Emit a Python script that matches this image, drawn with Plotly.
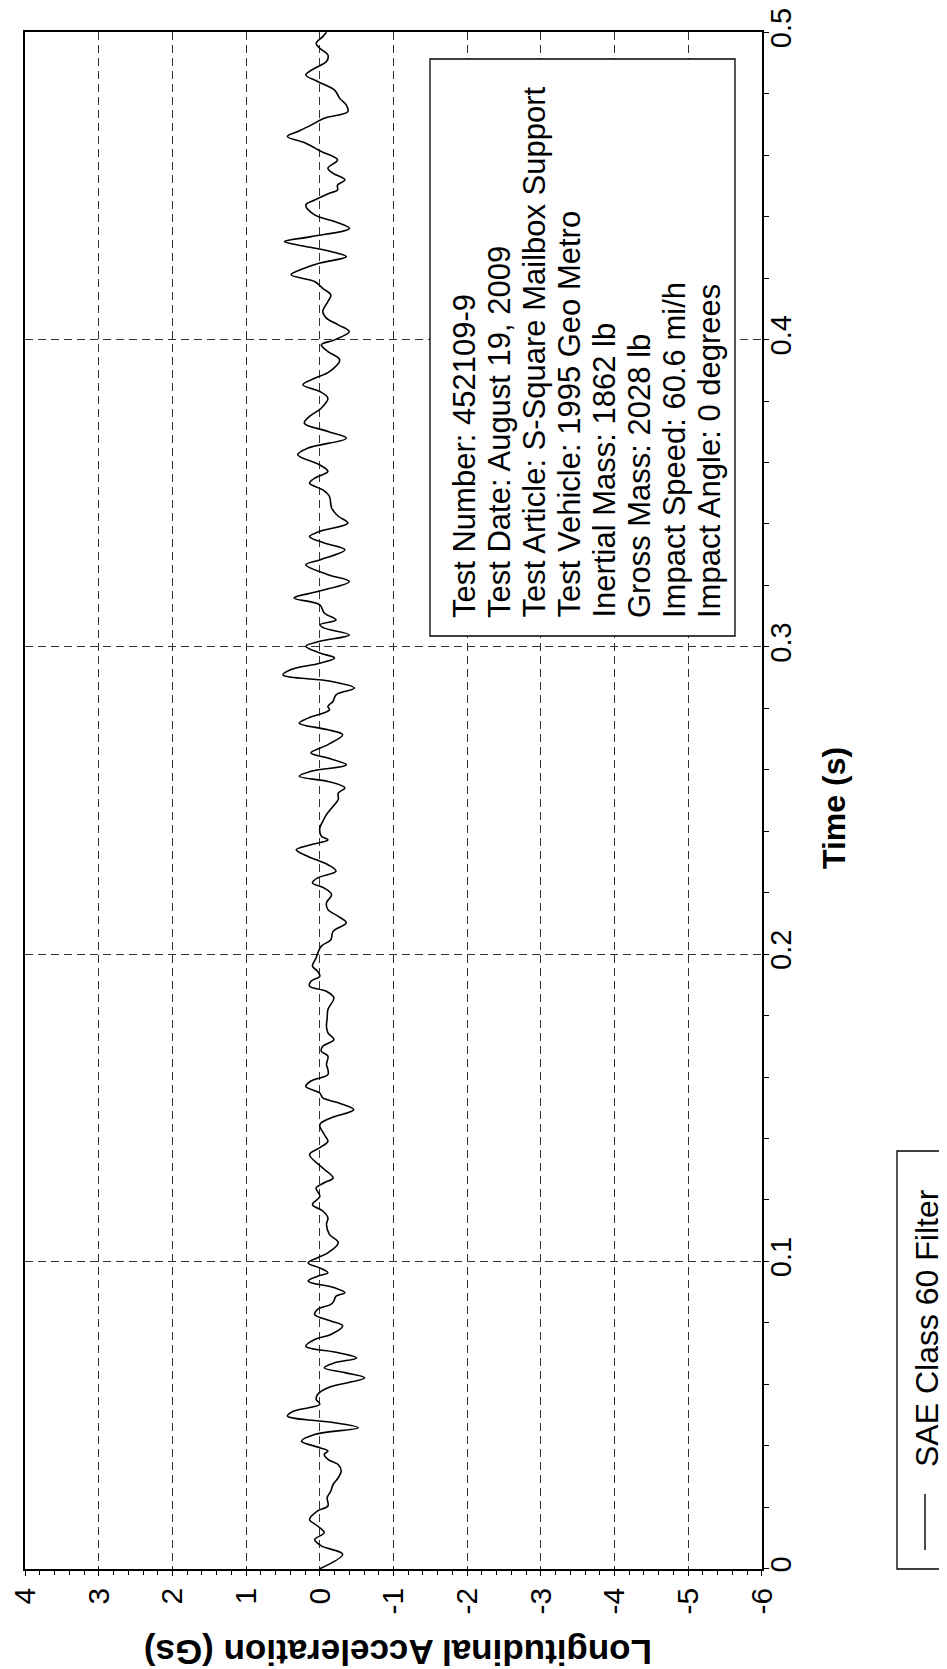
import plotly.graph_objects as go

# ---------------- data ----------------
time_s = [
    0.0000, 0.0047, 0.0074, 0.0095, 0.0117, 0.0139, 0.0160, 0.0188, 0.0204, 0.0231,
    0.0253, 0.0274, 0.0296, 0.0318, 0.0339, 0.0356, 0.0372, 0.0383, 0.0394, 0.0415,
    0.0437, 0.0459, 0.0475, 0.0497, 0.0513, 0.0535, 0.0551, 0.0567, 0.0589, 0.0621,
    0.0638, 0.0654, 0.0670, 0.0686, 0.0703, 0.0724, 0.0746, 0.0762, 0.0790, 0.0806,
    0.0827, 0.0844, 0.0860, 0.0871, 0.0887, 0.0898, 0.0914, 0.0936, 0.0952, 0.0963,
    0.0979, 0.0995, 0.1012, 0.1028, 0.1061, 0.1088, 0.1120, 0.1142, 0.1164, 0.1185,
    0.1212, 0.1239, 0.1256, 0.1272,
    0.1304, 0.1348, 0.1370, 0.1391, 0.1413, 0.1445, 0.1467, 0.1494, 0.1516, 0.1532,
    0.1548, 0.1570, 0.1587, 0.1608, 0.1624, 0.1641, 0.1668, 0.1684, 0.1700, 0.1722,
    0.1744, 0.1765, 0.1792, 0.1820, 0.1858, 0.1879, 0.1896, 0.1912, 0.1928, 0.1944,
    0.1961, 0.1988, 0.2002, 0.2026, 0.2047, 0.2074, 0.2102, 0.2123, 0.2145, 0.2167,
    0.2194, 0.2215, 0.2232, 0.2248, 0.2270, 0.2291, 0.2318, 0.2340, 0.2356, 0.2372,
    0.2384, 0.2411, 0.2432, 0.2454, 0.2481, 0.2503, 0.2524, 0.2541,
    0.2562, 0.2579, 0.2595, 0.2616, 0.2638, 0.2655, 0.2682, 0.2714, 0.2730, 0.2752,
    0.2768, 0.2795, 0.2806, 0.2823, 0.2844, 0.2866, 0.2888, 0.2909, 0.2926, 0.2947,
    0.2964, 0.2980, 0.3002, 0.3018, 0.3039, 0.3061, 0.3072, 0.3088, 0.3110, 0.3137,
    0.3159, 0.3180, 0.3213, 0.3235, 0.3267, 0.3283, 0.3316, 0.3338, 0.3359, 0.3376,
    0.3403, 0.3425, 0.3452, 0.3490, 0.3511, 0.3533, 0.3549, 0.3571, 0.3592, 0.3625,
    0.3647, 0.3679, 0.3701, 0.3728, 0.3750, 0.3777,
    0.3809, 0.3831, 0.3853, 0.3874, 0.3896, 0.3934, 0.3961, 0.3983, 0.3999, 0.4026,
    0.4048, 0.4070, 0.4091, 0.4124, 0.4145, 0.4167, 0.4189, 0.4211, 0.4232, 0.4249,
    0.4270, 0.4287, 0.4308, 0.4319, 0.4335, 0.4362, 0.4384, 0.4406, 0.4438, 0.4454,
    0.4476, 0.4487, 0.4503, 0.4520, 0.4541, 0.4558, 0.4585, 0.4612, 0.4639, 0.4661,
    0.4677, 0.4698, 0.4720, 0.4742, 0.4763, 0.4785, 0.4812, 0.4840, 0.4861, 0.4883,
    0.4905, 0.4926, 0.4948, 0.4964, 0.4986, 0.5000,
]
accel_g = [
    0.00, -0.31, -0.02, 0.07, -0.06, 0.03, 0.14, 0.03, -0.11, -0.10,
    -0.15, -0.18, -0.25, -0.29, -0.25, -0.11, -0.06, -0.11, 0.00, 0.25,
    0.07, -0.52, -0.20, 0.44, 0.35, 0.00, 0.05, 0.03, -0.11, -0.61,
    -0.34, -0.06, -0.20, -0.50, -0.25, 0.19, 0.07, -0.15, -0.31, -0.15,
    0.07, 0.03, -0.15, -0.19, -0.22, -0.34, -0.20, 0.16, 0.03, -0.11,
    0.00, 0.16, 0.03, -0.11, -0.25, -0.13, -0.09, -0.11, -0.04, 0.10,
    0.00, 0.05, -0.06, -0.18,
    -0.04, 0.14, 0.00, -0.11, -0.06, 0.00, -0.15, -0.46, -0.25, -0.04,
    0.00, 0.19, 0.12, -0.11, -0.11, -0.09, -0.11, -0.02, -0.04, -0.19,
    -0.11, -0.09, -0.10, -0.11, -0.19, -0.09, 0.14, 0.12, 0.00, 0.03,
    0.10, 0.05, 0.03, -0.02, -0.15, -0.18, -0.36, -0.25, -0.11, -0.09,
    -0.16, -0.06, 0.10, 0.03, -0.22, -0.11, 0.16, 0.32, 0.12, -0.11,
    -0.02, 0.00, -0.04, -0.09, -0.18, -0.25, -0.25, -0.34,
    -0.11, 0.28, 0.12, -0.36, -0.11, 0.12, -0.11, -0.31, -0.11, 0.28,
    0.16, -0.13, -0.11, -0.18, -0.22, -0.47, -0.15, 0.50, 0.39, 0.00,
    -0.20, 0.00, 0.19, 0.00, -0.40, -0.06, 0.00, -0.22, -0.06, 0.00,
    0.35, 0.03, -0.40, -0.11, 0.19, 0.00, -0.34, -0.06, 0.14, 0.00,
    -0.38, -0.25, -0.16, -0.13, -0.04, 0.14, 0.07, -0.11, 0.00, 0.30,
    0.16, -0.36, -0.11, 0.21, 0.14, -0.02,
    -0.11, 0.00, 0.23, 0.07, -0.13, -0.27, -0.11, -0.02, -0.20, -0.40,
    -0.25, -0.09, -0.04, -0.11, -0.15, -0.04, 0.07, 0.39, 0.21, 0.00,
    -0.36, -0.15, 0.30, 0.48, 0.12, -0.40, -0.20, 0.07, 0.19, 0.07,
    -0.13, -0.24, -0.24, -0.34, -0.18, -0.11, -0.24, -0.02, 0.19, 0.44,
    0.30, 0.12, -0.06, -0.38, -0.36, -0.27, -0.20, 0.03, 0.19, 0.07,
    -0.09, -0.11, 0.00, 0.05, -0.04, -0.09,
]

accel_ticks = [4, 3, 2, 1, 0, -1, -2, -3, -4, -5, -6]
accel_ticklabels = ["4", "3", "2", "1", "0", "-1", "-2", "-3", "-4", "-5", "-6"]
time_ticks = [0, 0.1, 0.2, 0.3, 0.4, 0.5]
time_ticklabels = ["0", "0.1", "0.2", "0.3", "0.4", "0.5"]

info_lines = [
    "Test Number: 452109-9",
    "Test Date: August 19, 2009",
    "Test Article: S-Square Mailbox Support",
    "Test Vehicle: 1995 Geo Metro",
    "Inertial Mass: 1862 lb",
    "Gross Mass: 2028 lb",
    "Impact Speed: 60.6 mi/h",
    "Impact Angle: 0 degrees",
]
series_name = "SAE Class 60 Filter"
accel_title = "Longitudinal Acceleration (Gs)"
time_title = "Time (s)"

# ---------------- layout geometry ----------------
W, H = 947, 1669
PL, PR, PT, PB = 17, 754, 24, 1561
FONT = "Arial, Liberation Sans, sans-serif"


def px_x(x):
    return (x - PL) / (PR - PL)


def px_y(y):
    return (PB - y) / (PB - PT)


fig = go.Figure()
fig.add_trace(go.Scatter(
    x=accel_g, y=time_s, mode="lines",
    line=dict(color="black", width=1.6, shape="spline", smoothing=1.0),
    name=series_name, showlegend=False, hoverinfo="skip",
))

grid = dict(showgrid=True, gridcolor="#333333", gridwidth=1, griddash="8px,5px")

fig.update_layout(
    width=W, height=H,
    margin=dict(l=PL, r=W - PR, t=PT, b=H - PB, pad=0, autoexpand=False),
    paper_bgcolor="white", plot_bgcolor="white",
    font=dict(family=FONT, color="black"),
    xaxis=dict(
        range=[4.002, -6.002], tickmode="array", tickvals=accel_ticks, ticktext=accel_ticklabels,
        tickangle=-90, tickfont=dict(size=30, family=FONT, color="black"),
        ticklabeloverflow="allow", automargin=False,
        showline=True, linecolor="black", linewidth=1.5, mirror=True,
        ticks="outside", ticklen=5, tickcolor="black", tickwidth=1,
        minor=dict(dtick=0.2, tick0=0, ticks="outside", ticklen=4, tickcolor="black", showgrid=False),
        zeroline=False, **grid,
    ),
    yaxis=dict(
        range=[-0.0001, 0.5001], side="right", tickmode="array", tickvals=time_ticks,
        ticktext=time_ticklabels,
        tickangle=-90, tickfont=dict(size=29, family=FONT, color="black"),
        ticklabeloverflow="allow", automargin=False, ticklabelstandoff=-13,
        showline=True, linecolor="black", linewidth=1.5, mirror=True,
        ticks="outside", ticklen=5, tickcolor="black", tickwidth=1,
        minor=dict(dtick=0.02, tick0=0, ticks="outside", ticklen=5, tickcolor="black", showgrid=False),
        zeroline=False, **grid,
    ),
)

shapes = []
annotations = []

# axis titles (the whole chart is turned a quarter turn)
annotations.append(dict(
    text="<b>%s</b>" % accel_title, x=px_x(390), y=px_y(1645), xref="paper", yref="paper",
    xanchor="center", yanchor="middle", showarrow=False, textangle=180,
    font=dict(size=35, family=FONT, color="black"),
))
annotations.append(dict(
    text="<b>%s</b>" % time_title, x=px_x(826), y=px_y(800), xref="paper", yref="paper",
    xanchor="center", yanchor="middle", showarrow=False, textangle=-90,
    font=dict(size=32, family=FONT, color="black"),
))

# info box
shapes.append(dict(type="rect", xref="paper", yref="paper",
                   x0=px_x(422), x1=px_x(727), y0=px_y(628), y1=px_y(51),
                   line=dict(color="black", width=1.3), fillcolor="white", layer="above"))
for k, line in enumerate(info_lines):
    annotations.append(dict(
        text=line, x=px_x(456 + 35 * k), y=px_y(612), xref="paper", yref="paper",
        xanchor="center", yanchor="bottom", showarrow=False, textangle=-90,
        font=dict(size=31, family=FONT, color="black"),
    ))

# legend box
shapes.append(dict(type="rect", xref="paper", yref="paper",
                   x0=px_x(889), x1=px_x(941), y0=px_y(1561), y1=px_y(1143),
                   line=dict(color="black", width=1.3), fillcolor="white"))
shapes.append(dict(type="line", xref="paper", yref="paper",
                   x0=px_x(917), x1=px_x(917), y0=px_y(1542), y1=px_y(1486),
                   line=dict(color="black", width=1.4)))
annotations.append(dict(
    text=series_name, x=px_x(919), y=px_y(1461), xref="paper", yref="paper",
    xanchor="center", yanchor="bottom", showarrow=False, textangle=-90,
    font=dict(size=32, family=FONT, color="black"),
))

fig.update_layout(shapes=shapes, annotations=annotations)
fig.write_html("out.html")
